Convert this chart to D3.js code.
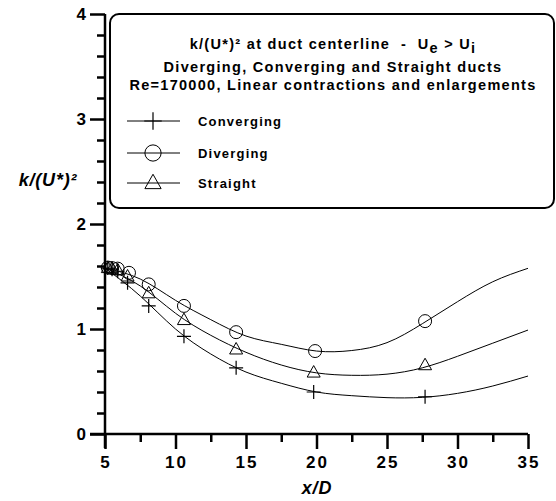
<!DOCTYPE html>
<html><head><meta charset="utf-8">
<script src="https://cdn.jsdelivr.net/npm/d3@7"></script>
<style>body{margin:0;background:#fff}svg{display:block;font-family:"Liberation Sans",Arial,sans-serif}text{white-space:pre}</style>
</head><body>
<svg id="c" width="556" height="501"></svg>
<script>
// ---- data ----
const seriesNames = ["Converging", "Diverging", "Straight"];
const convX = [5.2, 5.5, 5.9, 6.6, 8.1, 10.6, 14.3, 19.8, 27.7];
const convY = [1.58, 1.57, 1.55, 1.44, 1.22, 0.93, 0.63, 0.40, 0.355];
const divX  = [5.2, 5.5, 5.9, 6.7, 8.1, 10.6, 14.3, 19.9, 27.7];
const divY  = [1.585, 1.58, 1.575, 1.535, 1.425, 1.22, 0.97, 0.79, 1.075];
const strX  = [5.2, 5.5, 5.9, 6.6, 8.1, 10.6, 14.3, 19.8, 27.7];
const strY  = [1.58, 1.575, 1.56, 1.50, 1.34, 1.085, 0.805, 0.585, 0.655];
// fitted curves
const curveX    = [5, 7.5, 10, 12.5, 15, 17.5, 20, 22.5, 25, 27.5, 30, 32.5, 35];
const convCurve = [1.58, 1.314, 1.0, 0.762, 0.59, 0.483, 0.40, 0.365, 0.346, 0.349, 0.387, 0.457, 0.552];
const divCurve  = [1.58, 1.476, 1.273, 1.089, 0.933, 0.854, 0.79, 0.795, 0.87, 1.05, 1.26, 1.45, 1.578];
const strCurve  = [1.58, 1.41, 1.15, 0.94, 0.778, 0.657, 0.582, 0.559, 0.57, 0.63, 0.74, 0.865, 0.99];
const xTicks = [5, 10, 15, 20, 25, 30, 35];
const yTicks = [0, 1, 2, 3, 4];

const svg = d3.select("#c");
const x = d3.scaleLinear().domain([5, 35]).range([105, 528]);
const y = d3.scaleLinear().domain([0, 4]).range([434, 14]);

// curves
const line = d3.line().x(d => x(d[0])).y(d => y(d[1])).curve(d3.curveNatural);
[convCurve, divCurve, strCurve].forEach(c => {
  svg.append("path").attr("d", line(curveX.map((v, i) => [v, c[i]])))
    .attr("fill", "none").attr("stroke", "#000").attr("stroke-width", 1);
});

// markers
function marker(g, type, cx, cy, k = 1) {
  if (type === "Converging") {
    g.append("path").attr("d", `M${cx-7*k},${cy}H${cx+7*k}M${cx},${cy-7*k}V${cy+7*k}`)
      .attr("stroke", "#000").attr("stroke-width", 1.2).attr("fill", "none");
  } else if (type === "Diverging") {
    g.append("circle").attr("cx", cx).attr("cy", cy).attr("r", 6.5 * k)
      .attr("fill", "none").attr("stroke", "#000").attr("stroke-width", 1);
  } else {
    g.append("path").attr("d", `M${cx},${cy-7*k}L${cx+6.5*k},${cy+4.5*k}L${cx-6.5*k},${cy+4.5*k}Z`)
      .attr("fill", "none").attr("stroke", "#000").attr("stroke-width", 1);
  }
}
const pts = [[convX, convY], [divX, divY], [strX, strY]];
pts.forEach((p, s) => {
  const g = svg.append("g");
  p[0].forEach((v, i) => marker(g, seriesNames[s], x(v), y(p[1][i])));
});

// axes
const xAxis = svg.append("g").attr("transform", "translate(0,434)");
xAxis.call(d3.axisBottom(x).tickValues(d3.range(5, 35.1, 2.5)).tickSize(8).tickFormat(""));
xAxis.call(g => g.selectAll(".tick line").filter(d => d % 5 === 0).attr("y2", 15));
xAxis.selectAll("path,line").attr("stroke", "#000").attr("stroke-width", 2.5);
xAxis.select(".domain").attr("d", "M90,0H528");
xTicks.forEach(t => svg.append("text").attr("x", x(t) + 1).attr("y", 468).attr("text-anchor", "middle")
  .attr("font-size", 17).attr("font-weight", "bold").attr("letter-spacing", 2).text(t));

const yAxis = svg.append("g").attr("transform", "translate(105,0)");
yAxis.call(d3.axisLeft(y).tickValues(d3.range(0, 4.01, 0.2)).tickSize(8).tickFormat(""));
yAxis.call(g => g.selectAll(".tick line").filter(d => Math.abs(d - Math.round(d)) < 1e-6).attr("x2", -15));
yAxis.selectAll("path,line").attr("stroke", "#000").attr("stroke-width", 2.5);
yAxis.select(".domain").attr("d", "M0,14V448");
yTicks.forEach(t => svg.append("text").attr("x", 86).attr("y", y(t) + 6).attr("text-anchor", "end")
  .attr("font-size", 17).attr("font-weight", "bold").text(t));

// axis titles
svg.append("text").attr("x", 48).attr("y", 186).attr("text-anchor", "middle").attr("font-size", 18)
  .attr("font-weight", "bold").attr("font-style", "italic").attr("letter-spacing", 0.8).text("k/(U*)²");
svg.append("text").attr("x", 317).attr("y", 494).attr("text-anchor", "middle").attr("font-size", 18)
  .attr("font-weight", "bold").attr("font-style", "italic").attr("letter-spacing", 0.8).text("x/D");

// legend box
svg.append("rect").attr("x", 110).attr("y", 14).attr("width", 444).attr("height", 194)
  .attr("rx", 9).attr("fill", "#fff").attr("stroke", "#000").attr("stroke-width", 2);
const tStyle = s => s.attr("text-anchor", "middle").attr("font-size", 14.5)
  .attr("font-weight", "bold").attr("letter-spacing", 1.3);
const t1 = svg.append("text").attr("x", 333).attr("y", 49).call(tStyle);
t1.append("tspan").text("k/(U*)² at duct centerline  -  U");
t1.append("tspan").attr("dy", 4).text("e");
t1.append("tspan").attr("dy", -4).text(" > U");
t1.append("tspan").attr("dy", 4).text("i");
svg.append("text").attr("x", 333).attr("y", 72).call(tStyle)
  .text("Diverging, Converging and Straight ducts");
svg.append("text").attr("x", 333).attr("y", 90).call(tStyle)
  .text("Re=170000, Linear contractions and enlargements");
const legY = [121, 153, 183];
seriesNames.forEach((n, i) => {
  const g = svg.append("g");
  g.append("line").attr("x1", 127).attr("x2", 180).attr("y1", legY[i]).attr("y2", legY[i])
    .attr("stroke", "#000").attr("stroke-width", 1);
  marker(g, n, 153, legY[i], 1.25);
  g.append("text").attr("x", 198).attr("y", legY[i] + 5).attr("font-size", 13)
    .attr("font-weight", "bold").attr("letter-spacing", 1.2).text(n);
});
</script>
</body></html>
